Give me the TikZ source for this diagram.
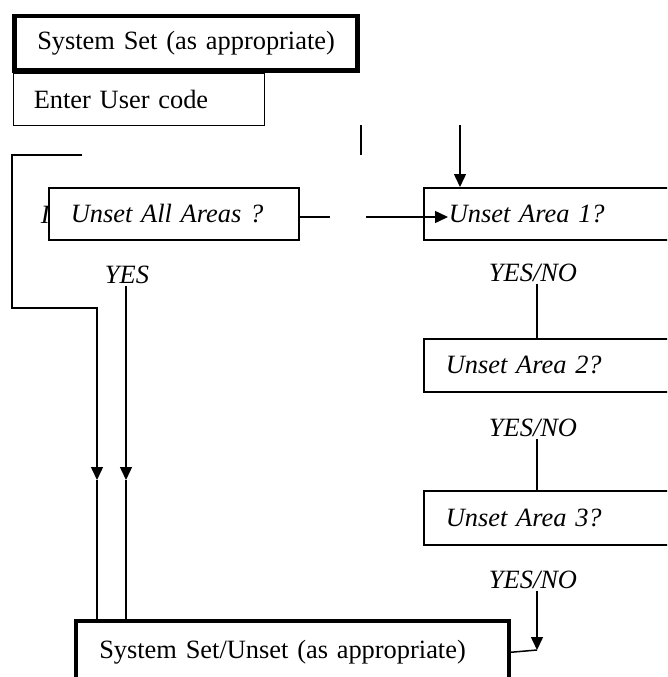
\documentclass[tikz,border=0pt]{standalone}
\usepackage{fontspec}
\setmainfont{Liberation Serif}
\usetikzlibrary{arrows.meta,calc}

\tikzset{
    flowbox/.style={draw, rectangle, anchor=north west, fill=white, align=left, line width=1.5pt, font=\fontsize{26.4}{30}\selectfont},
    heavybox/.style={flowbox, line width=4.5pt},
    askbox/.style={flowbox, font=\fontsize{26.4}{30}\selectfont\itshape},
    answer/.style={inner sep=1pt, font=\fontsize{26.4}{30}\selectfont\itshape}
}

\begin{document}
\begin{tikzpicture}[x=1pt, y=-1pt, >={Triangle[length=13pt,width=12pt]}, line width=1.5pt]
    \useasboundingbox (0,0) rectangle (667,677);
    \clip (0,0) rectangle (667,677);

    % Boxes {sysset, usercode, allareas, area1, area2, area3, sysunset}
    \node [heavybox, inner xsep=23pt, text width=297pt, minimum height=54pt]   (sysset)   at (12,14)     {\mbox{System Set (as appropriate)}};
    \node [flowbox, inner xsep=20.5pt, text width=210pt, minimum height=52pt]  (usercode) at (12.5,72.5) {\mbox{Enter User code}};
    \node [answer, anchor=west, inner sep=0pt]                                 (cutoff)   at (40,215)    {I};
    \node [askbox, inner xsep=22pt, text width=206pt, minimum height=52pt]     (allareas) at (48,187)    {\mbox{Unset All Areas ?}};
    \node [askbox, inner xsep=25pt, text width=250pt, minimum height=52pt]     (area1)    at (423,187)   {\mbox{Unset Area 1?}};
    \node [askbox, inner xsep=22pt, text width=256pt, minimum height=53pt]     (area2)    at (423,338)   {\mbox{Unset Area 2?}};
    \node [askbox, inner xsep=22pt, text width=256pt, minimum height=54pt]     (area3)    at (423,490)   {\mbox{Unset Area 3?}};
    \node [heavybox, inner xsep=23.5pt, text width=386pt, minimum height=63pt] (sysunset) at (73.5,618.5) {\mbox{System Set/Unset (as appropriate)}};

    % Answers
    \node [answer] (yes) at (127,275) {YES};
    \node [answer] (yn1) at (533,273) {YES/NO};
    \node [answer] (yn2) at (533,428) {YES/NO};
    \node [answer] (yn3) at (533,580) {YES/NO};

    % Free ends
    \coordinate (loopend)  at (82,155);
    \coordinate (ltip)     at (97,480);
    \coordinate (ytip)     at (126,480);
    \coordinate (gapleft)  at (330,217);
    \coordinate (gapright) at (366,217);
    \coordinate (ticktop)  at (361,125);
    \coordinate (tickfoot) at (361,155);
    \coordinate (intop)    at (460,125);
    \coordinate (ncol)     at (537,0);
    \coordinate (ntip)     at (537,650);

    % Paths
    \draw [->] (loopend) -- (12,155) -- (12,308) -- (97,308) -- (ltip);
    \draw      (ltip) -- (ltip |- sysunset.north);
    \draw [->] (yes.south -| ytip) -- (ytip);
    \draw      (ytip) -- (ytip |- sysunset.north);
    \draw      (allareas.east |- gapleft) -- (gapleft);
    \draw [->] (gapright) -- ($(gapright -| area1.west)+(25,0)$);
    \draw      (ticktop) -- (tickfoot);
    \draw [->] (intop) -- (intop |- area1.north);
    \draw      (yn1.south -| ncol) -- (ncol |- area2.north);
    \draw      (yn2.south -| ncol) -- (ncol |- area3.north);
    \draw [->] (yn3.south -| ncol) -- (ntip);
    \draw      (sysunset.east) -- (ntip);

\end{tikzpicture}
\end{document}
